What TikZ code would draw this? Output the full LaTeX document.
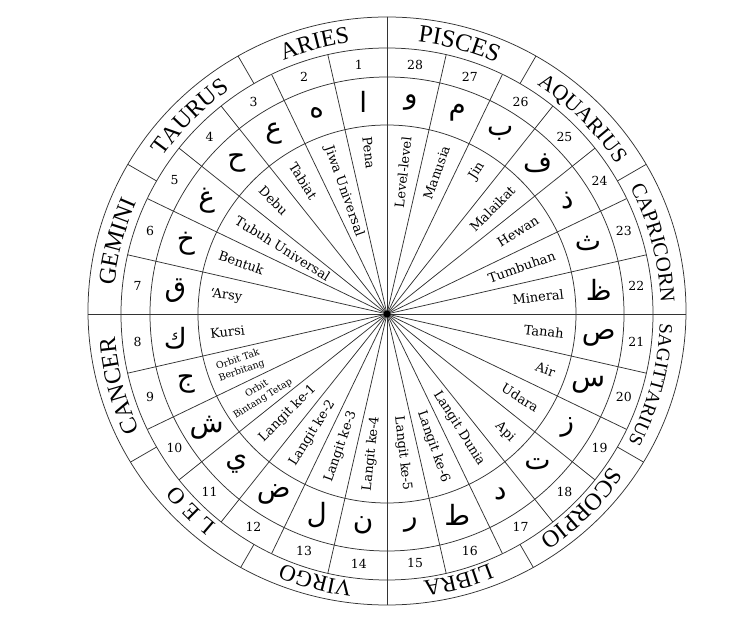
\documentclass[tikz,border=0pt]{standalone}
\usepackage{fontspec}
\setmainfont{DejaVu Serif}
\newfontfamily\zodiacfont{Liberation Serif}
\newfontfamily\arabicfont[Script=Arabic]{DejaVu Sans}
\TeXXeTstate=1
\usetikzlibrary{decorations.text}

\begin{document}
\begin{tikzpicture}[x=1bp, y=1bp,
    ring/.style={line width=0.75bp, black!80},
    sectortext/.style={font=\fontsize{13}{15}\selectfont, inner sep=0pt},
    smalltext/.style={font=\fontsize{9.5}{11.5}\selectfont, inner sep=0pt, align=center},
    numtext/.style={font=\fontsize{12.5}{14}\selectfont, inner sep=0pt},
    lettertext/.style={font=\arabicfont\fontsize{28}{32}\selectfont, inner sep=0pt},
    zodiac/.style 2 args={decorate, decoration={text along path, text align=center,
        text={|\zodiacfont\fontsize{#1}{#1}\selectfont|#2}}}]

    \useasboundingbox (-387,-310) rectangle (363,314);

    % Circles
    \draw[ring] (0,3) ellipse [x radius=299, y radius=294];
    \draw[ring] (0,0) circle [radius=266];
    \draw[ring] (0,0) circle [radius=237];
    \draw[ring] (0,0) circle [radius=189];

    % Zodiac boundaries
    \begin{scope}
        \clip (0,3) ellipse [x radius=299, y radius=294];
        \foreach \a in {0,30,...,330}
            \draw[ring] (\a:266) -- (\a:310);
    \end{scope}

    % Spokes and hub
    \foreach \k in {0,...,27}
        \draw[ring] (0,0) -- ({90+\k*360/28}:266);
    \node[circle, fill=black, inner sep=0pt, minimum size=7bp] (hub) at (0,0) {};

    % Zodiac names
    \path[zodiac={24}{ARIES}] (145:274) arc[start angle=145, end angle=65, radius=274];
    \path[zodiac={24}{TAURUS}] (175:274) arc[start angle=175, end angle=95, radius=274];
    \path[zodiac={24}{GEMINI}] (205:274) arc[start angle=205, end angle=125, radius=274];
    \path[zodiac={24}{CANCER}] (235:273) arc[start angle=235, end angle=155, radius=273];
    \path[zodiac={23}{L E O}] (265:271) arc[start angle=265, end angle=185, radius=271];
    \path[zodiac={23}{VIRGO}] (295:270) arc[start angle=295, end angle=215, radius=270];
    \path[zodiac={23}{LIBRA}] (325:270) arc[start angle=325, end angle=245, radius=270];
    \path[zodiac={24}{SCORPIO}] (355:271) arc[start angle=355, end angle=275, radius=271];
    \path[zodiac={19}{SAGITTARIUS}] (385:273) arc[start angle=385, end angle=305, radius=273];
    \path[zodiac={21}{CAPRICORN}] (55:274) arc[start angle=55, end angle=-25, radius=274];
    \path[zodiac={22}{AQUARIUS}] (85:274) arc[start angle=85, end angle=5, radius=274];
    \path[zodiac={25}{PISCES}] (115:274) arc[start angle=115, end angle=35, radius=274];

    % Numbers
    \foreach \k in {1,...,28}
        \node[numtext] (num\k) at ({90+(\k-0.5)*360/28}:251) {\k};

    % Letters
    \foreach \k/\ltr in {1/ا, 2/ه, 3/ع, 4/ح, 5/غ, 6/خ, 7/ق, 8/ك, 9/ج, 10/ش,
                        11/ي, 12/ض, 13/ل, 14/ن, 15/ر, 16/ط, 17/د, 18/ت, 19/ز,
                        20/س, 21/ص, 22/ظ, 23/ث, 24/ذ, 25/ف, 26/ب, 27/م, 28/و}
        \node[lettertext] (let\k) at ({90+(\k-0.5)*360/28}:213) {\beginR\ltr\endR};

    % Inner texts
    \foreach \k/\txt in {1/Pena, 2/Jiwa Universal, 3/Tabiat, 4/Debu,
                        5/Tubuh Universal, 6/Bentuk, 7/‘Arsy, 8/Kursi,
                        11/Langit ke-1, 12/Langit ke-2, 13/Langit ke-3,
                        14/Langit ke-4, 15/Langit ke-5, 16/Langit ke-6,
                        17/Langit Dunia, 18/Api, 19/Udara, 20/Air, 21/Tanah,
                        22/Mineral, 23/Tumbuhan, 24/Hewan, 25/Malaikat,
                        26/Jin, 27/Manusia, 28/Level-level}{
        \pgfmathsetmacro\ang{90+(\k-0.5)*360/28}
        \ifnum\k<15
            \node[sectortext, rotate=\ang+180, anchor=west] (lab\k) at (\ang:178) {\txt};
        \else
            \node[sectortext, rotate=\ang, anchor=east] (lab\k) at (\ang:178) {\txt};
        \fi
    }
    \node[smalltext, rotate=19.29, anchor=west] (lab9) at (199.29:180) {Orbit Tak\\Berbitang};
    \node[smalltext, rotate=32.14, anchor=west] (lab10) at (212.14:184) {Orbit\\Bintang Tetap};
\end{tikzpicture}
\end{document}
